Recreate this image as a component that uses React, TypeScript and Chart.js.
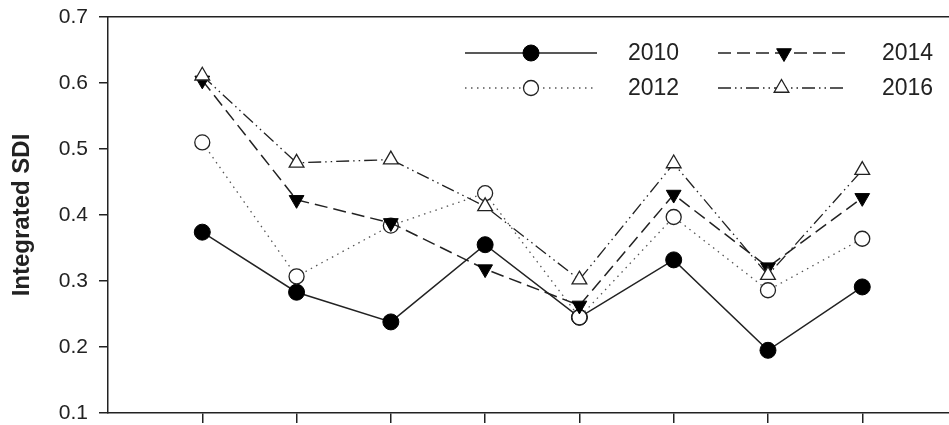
import React, { useEffect, useRef } from "react";
import { Chart, registerables } from "chart.js";
import { drawPoint } from "chart.js/helpers";

Chart.register(...registerables);

// Sampling sites along the x axis (positions 1..8, unlabelled)
const sites = [1, 2, 3, 4, 5, 6, 7, 8];

// Integrated SDI per survey year
const sdi2010 = [0.374, 0.283, 0.238, 0.355, 0.245, 0.332, 0.195, 0.291];
const sdi2012 = [0.51, 0.307, 0.384, 0.433, 0.245, 0.397, 0.286, 0.364];
const sdi2014 = [0.604, 0.423, 0.388, 0.318, 0.263, 0.431, 0.321, 0.426];
const sdi2016 = [0.611, 0.479, 0.484, 0.413, 0.302, 0.478, 0.309, 0.468];

const yTicks = [0.1, 0.2, 0.3, 0.4, 0.5, 0.6, 0.7];

const INK = "#222";
const FONT = "'Liberation Sans', Arial, sans-serif";

const toPoints = (vals: number[]) => sites.map((x, i) => ({ x, y: vals[i] }));

// Legend entries: line sample with centred marker, label to the right
const legendSlots = [
  { x0: 465, x1: 597, y: 53, tx: 628 },
  { x0: 465, x1: 597, y: 88, tx: 628 },
  { x0: 718, x1: 850, y: 53, tx: 882 },
  { x0: 718, x1: 845, y: 88, tx: 882 },
];

const sampleLegend = {
  id: "sampleLegend",
  afterDraw(chart: any) {
    const ctx = chart.ctx;
    chart.data.datasets.forEach((ds: any, i: number) => {
      const s = legendSlots[i];
      ctx.save();
      ctx.strokeStyle = ds.borderColor;
      ctx.lineWidth = ds.borderWidth;
      ctx.setLineDash(ds.borderDash || []);
      ctx.beginPath();
      ctx.moveTo(s.x0, s.y);
      ctx.lineTo(s.x1, s.y);
      ctx.stroke();
      ctx.setLineDash([]);
      ctx.fillStyle = ds.pointBackgroundColor;
      ctx.strokeStyle = ds.pointBorderColor;
      ctx.lineWidth = ds.pointBorderWidth;
      drawPoint(
        ctx,
        {
          pointStyle: ds.pointStyle,
          rotation: ds.pointRotation || 0,
          radius: ds.pointRadius,
          borderWidth: ds.pointBorderWidth,
        },
        (s.x0 + s.x1) / 2,
        s.y
      );
      ctx.fillStyle = INK;
      ctx.font = `23px ${FONT}`;
      ctx.textAlign = "left";
      ctx.textBaseline = "middle";
      ctx.fillText(ds.label, s.tx, s.y + 1);
      ctx.restore();
    });
  },
};

export default function App() {
  const ref = useRef<HTMLCanvasElement | null>(null);

  useEffect(() => {
    if (!ref.current) return;
    const chart = new Chart(ref.current, {
      type: "line",
      data: {
        // later years are painted over earlier ones
        datasets: [
          {
            label: "2010",
            order: 4,
            data: toPoints(sdi2010),
            borderColor: INK,
            borderWidth: 1.5,
            pointStyle: "circle",
            pointRadius: 8,
            pointBackgroundColor: "#000",
            pointBorderColor: "#000",
            pointBorderWidth: 1,
          },
          {
            label: "2012",
            order: 3,
            data: toPoints(sdi2012),
            borderColor: "#555",
            borderWidth: 1.3,
            borderDash: [1.5, 4.5],
            pointStyle: "circle",
            pointRadius: 7.5,
            pointBackgroundColor: "#fff",
            pointBorderColor: INK,
            pointBorderWidth: 1.3,
          },
          {
            label: "2014",
            order: 2,
            data: toPoints(sdi2014),
            borderColor: INK,
            borderWidth: 1.5,
            borderDash: [13, 6],
            pointStyle: "triangle",
            pointRotation: 180,
            pointRadius: 8.5,
            pointBackgroundColor: "#000",
            pointBorderColor: "#000",
            pointBorderWidth: 1,
          },
          {
            label: "2016",
            order: 1,
            data: toPoints(sdi2016),
            borderColor: INK,
            borderWidth: 1.3,
            borderDash: [13, 4, 1.5, 4, 1.5, 4],
            pointStyle: "triangle",
            pointRadius: 8.5,
            pointBackgroundColor: "#fff",
            pointBorderColor: INK,
            pointBorderWidth: 1.3,
          },
        ],
      },
      options: {
        responsive: false,
        animation: false,
        events: [],
        layout: { autoPadding: false, padding: { top: 17, right: 0, left: 0, bottom: 0 } },
        plugins: {
          legend: { display: false },
          tooltip: { enabled: false },
        },
        scales: {
          x: {
            type: "linear",
            position: "bottom",
            min: 0,
            max: 8.92,
            afterBuildTicks: (scale: any) => {
              scale.ticks = sites.map((v) => ({ value: v }));
            },
            afterFit: (scale: any) => {
              scale.height = 12;
            },
            ticks: { display: false },
            grid: {
              drawOnChartArea: false,
              drawTicks: true,
              tickLength: 10,
              tickColor: INK,
              lineWidth: 1.5,
            },
            border: { display: true, color: INK, width: 1.5 },
          },
          xTop: {
            type: "linear",
            position: "top",
            min: 0,
            max: 8.92,
            afterFit: (scale: any) => {
              scale.height = 0;
            },
            ticks: { display: false },
            grid: { display: false },
            border: { display: true, color: INK, width: 1.5 },
          },
          y: {
            type: "linear",
            min: 0.1,
            max: 0.7,
            afterBuildTicks: (scale: any) => {
              scale.ticks = yTicks.map((v) => ({ value: v }));
            },
            afterFit: (scale: any) => {
              scale.width = 108;
              // tick labels may overhang the plot box; no extra room needed
              scale.paddingTop = 0;
              scale.paddingBottom = 0;
            },
            ticks: {
              color: INK,
              font: { family: FONT, size: 21 },
              padding: 11,
              callback: (v: any) => Number(v).toFixed(1),
            },
            grid: {
              drawOnChartArea: false,
              drawTicks: true,
              tickLength: 9,
              tickColor: INK,
              lineWidth: 1.5,
            },
            border: { display: true, color: INK, width: 1.5 },
            title: {
              display: true,
              text: "Integrated SDI",
              color: INK,
              font: { family: FONT, size: 24, weight: "bold" },
              padding: { top: 8, bottom: 0 },
            },
          },
        },
      },
      plugins: [sampleLegend],
    } as any);
    return () => chart.destroy();
  }, []);

  return (
    <div style={{ position: "absolute", left: 0, top: 0, width: 949, height: 425, background: "#fff" }}>
      <canvas ref={ref} width={949} height={425} style={{ display: "block" }} />
    </div>
  );
}
